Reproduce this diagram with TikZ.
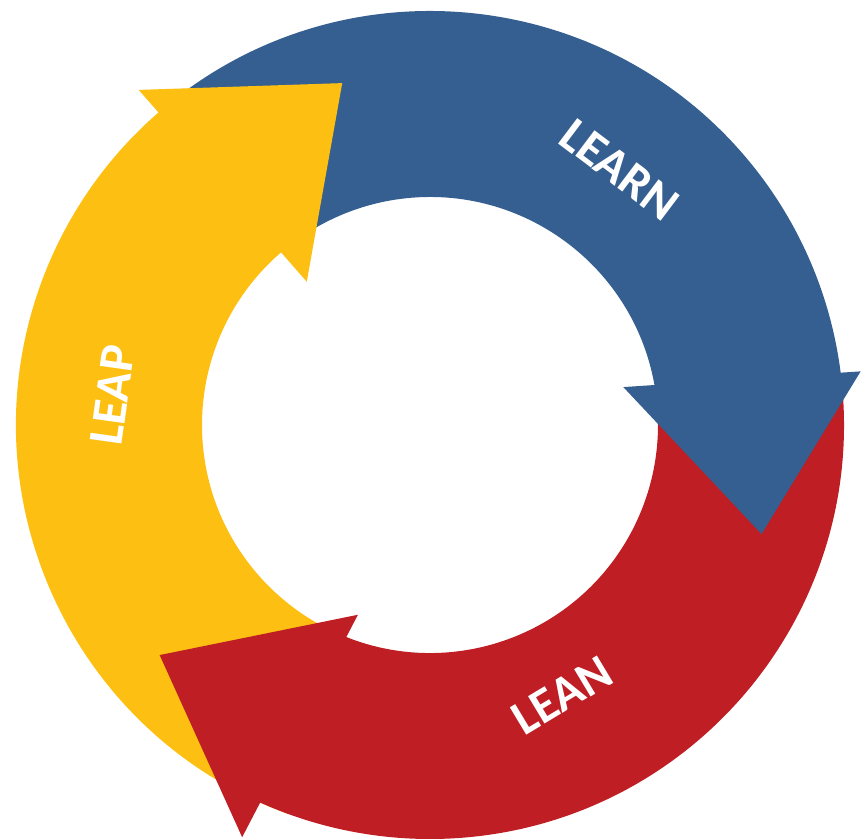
\documentclass[tikz,border=0pt]{standalone}
\usepackage{fontspec}
\setmainfont{Carlito}
\usetikzlibrary{calc}
\definecolor{learnblue}{HTML}{355F91}
\definecolor{leanred}{HTML}{BE1E24}
\definecolor{leapyellow}{HTML}{FCBF12}
\newcommand{\ringin}{228}
\newcommand{\ringout}{414}
\newcommand{\labelsize}{\fontsize{28}{32}\selectfont\bfseries}

\begin{document}
\begin{tikzpicture}[scale=0.02]
\tikzstyle{cyclelabel}=[text=white,font=\labelsize,inner sep=0pt]

\useasboundingbox (-430,-413) rectangle (431,425);

% shafts first, so every head lies over the start of the next band
\fill[leapyellow] (-110:\ringout) arc[start angle=-110,end angle=-230,radius=\ringout]
  -- (-230:\ringin) arc[start angle=-230,end angle=-110,radius=\ringin] -- cycle;
\fill[leanred] (5:\ringout) arc[start angle=5,end angle=-115,radius=\ringout]
  -- (-112:\ringin) arc[start angle=-112,end angle=5,radius=\ringin] -- cycle;
\fill[learnblue] (128:\ringout) arc[start angle=128,end angle=6.5,radius=\ringout]
  -- (9:\ringin) arc[start angle=9,end angle=128,radius=\ringin] -- cycle;

% heads
\fill[learnblue] (11.1:197) -- (7.1:434) -- (-18.2:349) -- cycle;
\fill[leanred] (-110.8:203) -- (-114.5:453) -- (-139.6:355) -- cycle;
\fill[leapyellow] (130.7:189) -- (131:444) -- (104.4:353) -- cycle;

\node (learnlabel) [cyclelabel, rotate=-37] at (53.4:318) {LEARN};
\node (leanlabel) [cyclelabel, rotate=31] at (-64:301) {LEAN};
\node (leaplabel) [cyclelabel, rotate=82] at (174.6:319) {LEAP};

\end{tikzpicture}
\end{document}
